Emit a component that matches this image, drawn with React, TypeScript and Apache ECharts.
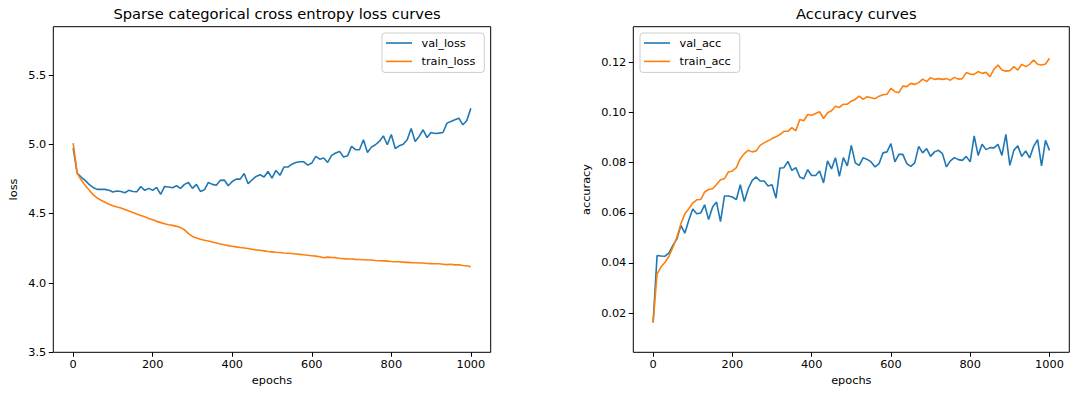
import React, { useEffect, useRef } from "react";
import * as echarts from "echarts";

const epochs = [
  0, 10, 20, 30, 40, 50, 60, 70, 80, 90, 100, 110, 120, 130, 140, 150, 160, 170, 180, 190,
  200, 210, 220, 230, 240, 250, 260, 270, 280, 290, 300, 310, 320, 330, 340, 350, 360, 370, 380, 390,
  400, 410, 420, 430, 440, 450, 460, 470, 480, 490, 500, 510, 520, 530, 540, 550, 560, 570, 580, 590,
  600, 610, 620, 630, 640, 650, 660, 670, 680, 690, 700, 710, 720, 730, 740, 750, 760, 770, 780, 790,
  800, 810, 820, 830, 840, 850, 860, 870, 880, 890, 900, 910, 920, 930, 940, 950, 960, 970, 980, 990,
  1000,
];

const valLoss = [
  4.974, 4.793, 4.765, 4.741, 4.712, 4.69, 4.676, 4.676, 4.676, 4.669,
  4.657, 4.664, 4.661, 4.652, 4.669, 4.661, 4.659, 4.697, 4.669, 4.683,
  4.669, 4.69, 4.64, 4.697, 4.693, 4.688, 4.702, 4.683, 4.712, 4.726,
  4.683, 4.712, 4.661, 4.673, 4.726, 4.712, 4.705, 4.741, 4.743, 4.702,
  4.733, 4.75, 4.75, 4.791, 4.717, 4.745, 4.769, 4.781, 4.765, 4.805,
  4.757, 4.813, 4.777, 4.837, 4.837, 4.858, 4.87, 4.875, 4.875, 4.851,
  4.866, 4.914, 4.894, 4.902, 4.87, 4.921, 4.938, 4.95, 4.909, 4.918,
  4.986, 4.962, 4.962, 5.034, 4.942, 4.981, 4.998, 5.022, 5.062, 4.998,
  5.072, 4.971, 4.99, 5.002, 5.034, 5.115, 5.022, 5.058, 5.106, 5.05,
  5.086, 5.079, 5.082, 5.086, 5.154, 5.166, 5.178, 5.19, 5.142, 5.173,
  5.262,
];

const trainLoss = [
  5.01, 4.794, 4.745, 4.705, 4.672, 4.638, 4.614, 4.598, 4.583, 4.569,
  4.558, 4.549, 4.541, 4.53, 4.519, 4.509, 4.498, 4.488, 4.478, 4.466,
  4.456, 4.445, 4.436, 4.428, 4.421, 4.416, 4.409, 4.4, 4.384, 4.357,
  4.336, 4.325, 4.316, 4.309, 4.303, 4.296, 4.289, 4.282, 4.276, 4.27,
  4.266, 4.261, 4.256, 4.253, 4.249, 4.244, 4.239, 4.236, 4.232, 4.228,
  4.225, 4.222, 4.22, 4.217, 4.215, 4.213, 4.21, 4.207, 4.204, 4.2,
  4.197, 4.194, 4.19, 4.182, 4.187, 4.184, 4.183, 4.179, 4.176, 4.174,
  4.173, 4.171, 4.17, 4.168, 4.166, 4.166, 4.163, 4.161, 4.16, 4.158,
  4.155, 4.154, 4.153, 4.151, 4.149, 4.147, 4.146, 4.145, 4.144, 4.141,
  4.14, 4.139, 4.139, 4.136, 4.133, 4.135, 4.131, 4.132, 4.127, 4.125,
  4.118,
];

const valAcc = [
  0.0163, 0.043, 0.0428, 0.0427, 0.044, 0.047, 0.0496, 0.055, 0.0519, 0.057,
  0.0615, 0.0596, 0.0599, 0.0632, 0.0573, 0.0623, 0.0643, 0.0565, 0.0667, 0.0667,
  0.0663, 0.0653, 0.0712, 0.0645, 0.0696, 0.0729, 0.0743, 0.0727, 0.0727, 0.0707,
  0.0712, 0.0659, 0.0779, 0.078, 0.0805, 0.0769, 0.078, 0.0743, 0.0736, 0.0772,
  0.0749, 0.0749, 0.0767, 0.0719, 0.0807, 0.0775, 0.082, 0.0745, 0.082, 0.0787,
  0.0869, 0.0799, 0.0789, 0.082, 0.0813, 0.0803, 0.0783, 0.0796, 0.0839, 0.0843,
  0.0876, 0.0803, 0.0833, 0.0833, 0.0796, 0.0785, 0.0799, 0.0865, 0.0839, 0.0856,
  0.0825, 0.0843, 0.0849, 0.0836, 0.0783, 0.0807, 0.082, 0.0812, 0.0809, 0.0825,
  0.0803, 0.0907, 0.0829, 0.0873, 0.0852, 0.086, 0.0859, 0.0873, 0.0829, 0.0913,
  0.0789, 0.0849, 0.0867, 0.0825, 0.0847, 0.0819, 0.0865, 0.0892, 0.0787, 0.0889,
  0.0849,
];

const trainAcc = [
  0.0163, 0.0356, 0.0385, 0.0403, 0.0427, 0.0463, 0.0503, 0.0556, 0.0596, 0.0616,
  0.0639, 0.0652, 0.0653, 0.0683, 0.0693, 0.0696, 0.0713, 0.0732, 0.0736, 0.0763,
  0.0767, 0.078, 0.0816, 0.0836, 0.0849, 0.0843, 0.0847, 0.0869, 0.0879, 0.0887,
  0.0896, 0.0903, 0.0912, 0.0925, 0.0925, 0.094, 0.0927, 0.0972, 0.0967, 0.0992,
  0.0989, 0.0996, 0.1003, 0.0976, 0.0999, 0.1007, 0.1025, 0.102, 0.1033, 0.1033,
  0.1045, 0.1052, 0.1065, 0.1052, 0.1063, 0.1059, 0.1055, 0.1065, 0.1071, 0.1073,
  0.1096, 0.1083, 0.1079, 0.1105, 0.1103, 0.1116, 0.1112, 0.1119, 0.1133, 0.1123,
  0.1139, 0.1132, 0.1135, 0.1132, 0.1135, 0.1129, 0.114, 0.1133, 0.1135, 0.1159,
  0.1153, 0.1152, 0.1163, 0.1156, 0.116, 0.1143, 0.1173, 0.1189, 0.1169, 0.1165,
  0.1167, 0.1183, 0.1169, 0.1192, 0.1183, 0.1192, 0.1209, 0.1192, 0.1189, 0.1193,
  0.1216,
];

const xTicks = [0, 200, 400, 600, 800, 1000];
const lossTicks = [3.5, 4.0, 4.5, 5.0, 5.5];
const accTicks = [0.02, 0.04, 0.06, 0.08, 0.1, 0.12];

const BLUE = "#1f77b4";
const ORANGE = "#ff7f0e";
const FONT = "DejaVu Sans";
const FS = 11.3;

const pairs = (ys: number[]) => ys.map((y, i) => [epochs[i], y]);

export default function App() {
  const ref = useRef<HTMLDivElement>(null);
  useEffect(() => {
    if (!ref.current) return;
    const chart = echarts.init(ref.current, undefined, { renderer: "svg" });

    const xAxisBase = (gridIndex: number) => ({
      type: "value" as const,
      gridIndex,
      min: -50,
      max: 1050,
      position: "bottom" as const,
      name: "epochs",
      nameLocation: "middle" as const,
      nameGap: 22,
      nameTextStyle: { color: "#000", fontFamily: FONT, fontSize: FS },
      axisLine: { show: false, onZero: false },
      axisTick: {
        show: true,
        length: 4.5,
        customValues: xTicks,
        lineStyle: { color: "#000", width: 1 },
      },
      axisLabel: {
        show: true,
        customValues: xTicks,
        color: "#000",
        fontFamily: FONT,
        fontSize: FS,
        margin: 7,
        formatter: (v: number) => String(v),
      },
      splitLine: { show: false },
    });

    const yAxisBase = (
      gridIndex: number,
      min: number,
      max: number,
      ticks: number[],
      dec: number,
      name: string,
      gap: number
    ) => ({
      type: "value" as const,
      gridIndex,
      min,
      max,
      position: "left" as const,
      name,
      nameLocation: "middle" as const,
      nameGap: gap,
      nameRotate: 90,
      nameTextStyle: { color: "#000", fontFamily: FONT, fontSize: FS },
      axisLine: { show: false, onZero: false },
      axisTick: {
        show: true,
        length: 4.5,
        customValues: ticks,
        lineStyle: { color: "#000", width: 1 },
      },
      axisLabel: {
        show: true,
        customValues: ticks,
        color: "#000",
        fontFamily: FONT,
        fontSize: FS,
        margin: 7,
        formatter: (v: number) => v.toFixed(dec),
      },
      splitLine: { show: false },
    });

    const legendBase = {
      orient: "vertical" as const,
      icon: "rect",
      itemWidth: 26,
      itemHeight: 1.6,
      itemGap: 4.4,
      backgroundColor: "rgba(255,255,255,0.8)",
      borderColor: "#cccccc",
      borderWidth: 1,
      borderRadius: 3,
      padding: [3, 9, 4, 4],
      formatter: (name: string) => "{t|" + name + "}",
      textStyle: {
        color: "#000",
        fontFamily: FONT,
        fontSize: FS,
        lineHeight: 14,
        rich: {
          t: {
            color: "#000",
            fontFamily: FONT,
            fontSize: FS,
            lineHeight: 14,
            padding: [0, 0, 0, 4.5],
          },
        },
      },
    };

    const lineSeries = (
      name: string,
      ys: number[],
      color: string,
      axisIndex: number
    ) => ({
      type: "line" as const,
      name,
      data: pairs(ys),
      xAxisIndex: axisIndex,
      yAxisIndex: axisIndex,
      showSymbol: false,
      symbol: "none",
      color,
      lineStyle: { color, width: 1.6 },
      emphasis: { disabled: true },
    });

    chart.setOption({
      animation: false,
      backgroundColor: "#ffffff",
      textStyle: { fontFamily: FONT },
      title: [
        {
          text: "Sparse categorical cross entropy loss curves",
          left: 272,
          top: 1,
          textAlign: "center",
          textStyle: {
            color: "#000",
            fontFamily: FONT,
            fontSize: 14.7,
            fontWeight: "normal",
          },
        },
        {
          text: "Accuracy curves",
          left: 851.3,
          top: 1,
          textAlign: "center",
          textStyle: {
            color: "#000",
            fontFamily: FONT,
            fontSize: 14.7,
            fontWeight: "normal",
          },
        },
      ],
      grid: [
        {
          left: 53.3,
          top: 26.7,
          width: 437.4,
          height: 325.6,
          show: true,
          borderColor: "#000",
          borderWidth: 1,
          backgroundColor: "transparent",
        },
        {
          left: 633.3,
          top: 26.7,
          width: 436,
          height: 325.6,
          show: true,
          borderColor: "#000",
          borderWidth: 1,
          backgroundColor: "transparent",
        },
      ],
      legend: [
        {
          ...legendBase,
          left: 382,
          top: 33,
          data: ["val_loss", "train_loss"],
        },
        {
          ...legendBase,
          left: 640,
          top: 33,
          data: ["val_acc", "train_acc"],
        },
      ],
      xAxis: [xAxisBase(0), xAxisBase(1)],
      yAxis: [
        yAxisBase(0, 3.5, 5.85, lossTicks, 1, "loss", 34),
        yAxisBase(1, 0.0044, 0.1342, accTicks, 2, "accuracy", 41),
      ],
      series: [
        lineSeries("val_loss", valLoss, BLUE, 0),
        lineSeries("train_loss", trainLoss, ORANGE, 0),
        lineSeries("val_acc", valAcc, BLUE, 1),
        lineSeries("train_acc", trainAcc, ORANGE, 1),
      ],
    });

    return () => chart.dispose();
  }, []);

  return (
    <div
      ref={ref}
      style={{
        position: "absolute",
        left: 0,
        top: 0,
        width: 1070,
        height: 393,
        background: "#fff",
      }}
    />
  );
}
